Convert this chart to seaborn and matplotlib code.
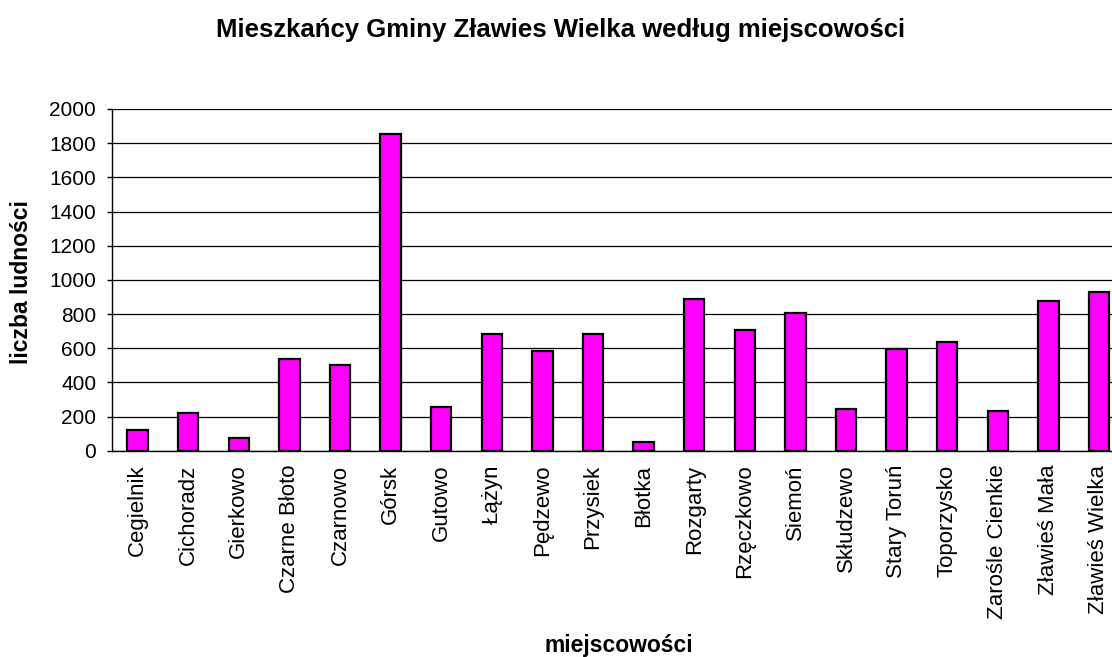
import matplotlib
matplotlib.use("Agg")
import matplotlib.pyplot as plt
import seaborn as sns
import pandas as pd

# dane
miejscowosci = ["Cegielnik", "Cichoradz", "Gierkowo", "Czarne Błoto", "Czarnowo",
                "Górsk", "Gutowo", "Łążyn", "Pędzewo", "Przysiek", "Błotka",
                "Rozgarty", "Rzęczkowo", "Siemoń", "Skłudzewo", "Stary Toruń",
                "Toporzysko", "Zarośle Cienkie", "Zławieś Mała", "Zławieś Wielka"]
ludnosc = [121, 219, 72, 536, 500, 1855, 258, 683, 585, 683, 49,
           888, 708, 808, 244, 597, 634, 232, 878, 927]
y_ticks = list(range(0, 2001, 200))

title = "Mieszkańcy Gminy Zławies Wielka według miejscowości"
y_title = "liczba ludności"
x_title = "miejscowości"

sns.set_style("white")
plt.rcParams["font.family"] = ["Liberation Sans", "DejaVu Sans"]
plt.rcParams["text.color"] = "black"
plt.rcParams["xtick.color"] = "black"
plt.rcParams["ytick.color"] = "black"

W, H = 1112, 657
fig = plt.figure(figsize=(W / 100, H / 100), dpi=100)
fig.patch.set_facecolor("white")
ax = fig.add_axes([112.3 / W, (H - 450.7) / H, 1012 / W, 341.7 / H])

df = pd.DataFrame({"miejscowosc": miejscowosci, "ludnosc": ludnosc})
sns.barplot(data=df, x="miejscowosc", y="ludnosc", color="#ff00ff",
            saturation=1, edgecolor="black", linewidth=1.6, width=0.4, ax=ax)

ax.set_xlim(-0.5, len(miejscowosci) - 0.5)
ax.set_ylim(0, 2000)
ax.set_yticks(y_ticks)
ax.set_yticklabels([str(v) for v in y_ticks], fontsize=15)
ax.set_xticks(range(len(miejscowosci)))
ax.set_xticklabels(miejscowosci, rotation=90, fontsize=16)
ax.set_xticks([i - 0.5 for i in range(len(miejscowosci) + 1)], minor=True)
ax.tick_params(axis="x", which="major", length=0, pad=10, labelcolor="black")
ax.tick_params(axis="x", which="minor", length=3.6, width=1, direction="out", color="black")
ax.tick_params(axis="y", length=3.6, width=1, direction="out", color="black", pad=8,
               left=True, labelcolor="black")
ax.set_xlabel("")
ax.set_ylabel("")

ax.yaxis.grid(True, color="black", linewidth=0.9)
ax.set_axisbelow(True)
for side in ["top", "right"]:
    ax.spines[side].set_visible(False)
for side in ["left", "bottom"]:
    ax.spines[side].set_color("black")
    ax.spines[side].set_linewidth(1)

fig.text(561 / W, 1 - 37 / H, title, ha="center", va="baseline", fontsize=18.5,
         fontweight="bold", color="black")
fig.text(21.5 / W, 1 - 282 / H, y_title, ha="center", va="center", rotation=90,
         fontsize=16.5, fontweight="bold", color="black")
fig.text(619 / W, 1 - 652 / H, x_title, ha="center", va="baseline", fontsize=16.5,
         fontweight="bold", color="black")

fig.savefig("out.png", dpi=100)
